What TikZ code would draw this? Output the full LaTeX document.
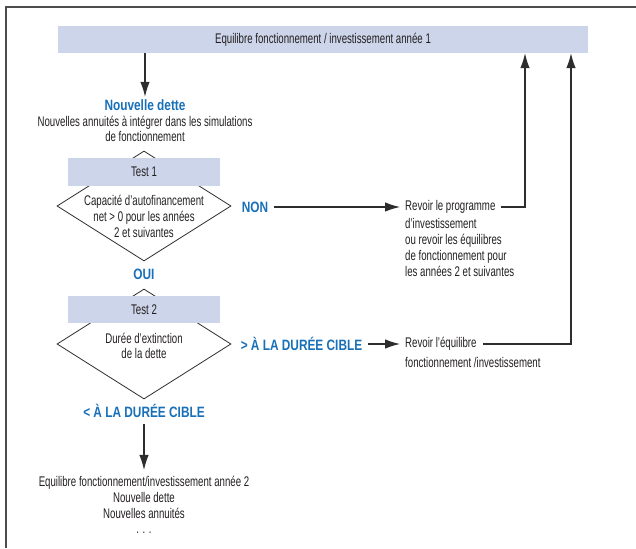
\documentclass[tikz,border=0pt]{standalone}
\usepackage{fontspec}
\setmainfont{Liberation Sans}[FakeStretch=0.69]
\newfontfamily\bfnt{Liberation Sans}[FakeStretch=0.79]
\usetikzlibrary{shapes.geometric,arrows.meta}
\definecolor{barfill}{RGB}{205,213,234}
\definecolor{bluet}{RGB}{24,112,184}
\definecolor{ink}{RGB}{35,31,32}
\definecolor{linec}{RGB}{45,45,45}
\tikzset{
  txt/.style={text=ink, font=\fontsize{14}{15.8}\selectfont, inner sep=2pt, align=center},
  ltxt/.style={text=ink, font=\fontsize{14}{16.2}\selectfont, inner sep=2pt, align=left},
  btxt/.style={text=bluet, font=\bfnt\bfseries\fontsize{15}{16}\selectfont, inner sep=2pt},
  barbox/.style={fill=barfill, draw=none, text=ink, font=\fontsize{14}{15.8}\selectfont, inner sep=0pt},
  dia/.style={shape=diamond, draw=linec, line width=0.8pt, minimum width=174pt, minimum height=110pt, inner sep=0pt},
  arr/.style={draw=linec, line width=1.2pt, -{Latex[length=15pt,width=9.5pt]}},
  frame/.style={draw=linec!85, line width=1.5pt}
}
\begin{document}
\begin{tikzpicture}[x=1pt,y=-1pt]
\useasboundingbox (0,0) rectangle (636,548);
\draw[frame] (6,548) -- (6,7) -- (636,7);

\node[barbox, minimum width=530pt, minimum height=27pt] (top) at (323,39.5) {Equilibre fonctionnement / investissement année 1};
\coordinate (a0) at (145,0);
\coordinate (u1) at (525,0);
\coordinate (u2) at (571,0);

\node[btxt] (nd) at (145,105.5) {Nouvelle dette};
\node[txt] (nds) at (145,129) {Nouvelles annuités à intégrer dans les simulations\\de fonctionnement};
\draw[arr, shorten >=1pt] (top.south -| a0) -- (nd.north);

% Test 1
\node[dia] (d1) at (144,206) {};
\node[barbox, minimum width=152pt, minimum height=28pt] (t1) at (144,172) {Test 1};
\node[txt] (d1t) at (144,216.5) {Capacité d’autofinancement\\net > 0 pour les années\\2 et suivantes};
\node[btxt] (oui) at (144,274.5) {OUI};

\node[btxt] (non) at (255,207) {NON};
\node[ltxt, anchor=west] (revA) at (403,207) {Revoir le programme};
\node[ltxt, anchor=west] (revB) at (403,247.5) {d’investissement\\ou revoir les équilibres\\de fonctionnement pour\\les années 2 et suivantes};
\draw[arr, shorten >=3pt, shorten <=4pt] (non.east) -- (revA.west);
\draw[arr, shorten <=3pt] (revA.east) -| (top.south -| u1);

% Test 2
\node[dia] (d2) at (144,344) {};
\node[barbox, minimum width=152pt, minimum height=27pt] (t2) at (144,309.5) {Test 2};
\node[txt] (d2t) at (144,346) {Durée d’extinction\\de la dette};

\node[btxt] (cg) at (301.5,344) {> À LA DURÉE CIBLE};
\node[ltxt, anchor=west] (rev2A) at (403,344) {Revoir l’équilibre};
\node[ltxt, anchor=west] (rev2B) at (403,362) {fonctionnement /investissement};
\draw[arr, shorten >=3pt, shorten <=4pt] (cg.east) -- (rev2A.west);
\draw[arr, shorten <=4pt] (rev2A.east) -| (top.south -| u2);

\node[btxt] (cl) at (144,410.5) {< À LA DURÉE CIBLE};
\node[txt] (fin) at (144,505) {Equilibre fonctionnement/investissement année 2\\Nouvelle dette\\Nouvelles annuités\\. . .};
\draw[arr, shorten <=5pt, shorten >=4pt] (cl.south) -- (fin.north);
\end{tikzpicture}
\end{document}
